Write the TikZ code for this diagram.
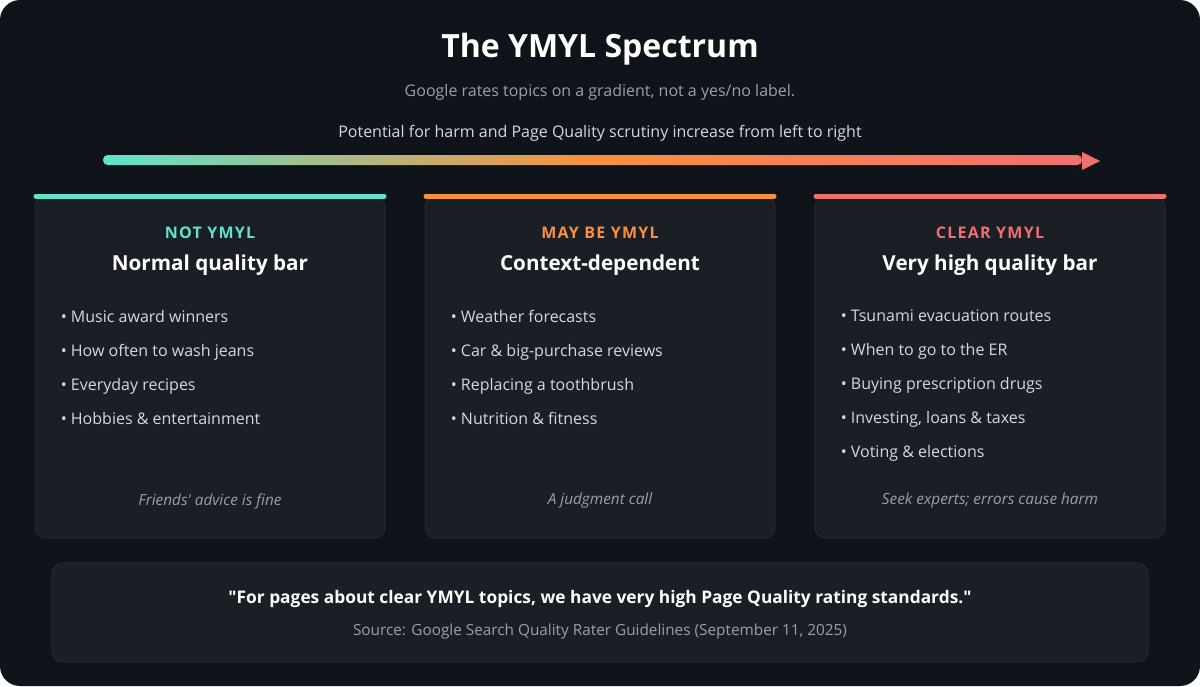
\documentclass[tikz,border=0pt]{standalone}
\usepackage{fontspec}
\setmainfont{Open Sans}
\usetikzlibrary{positioning}
\definecolor{bg}{HTML}{0F141B}
\definecolor{card}{HTML}{1A1E25}
\definecolor{cardline}{HTML}{2B3038}
\definecolor{teal}{HTML}{5FE3CC}
\definecolor{orng}{HTML}{F9903E}
\definecolor{salmon}{HTML}{F07070}
\definecolor{greytxt}{HTML}{9AA0A8}
\definecolor{bullettxt}{HTML}{D5D8DD}
\pgfdeclarehorizontalshading{ymylgrad}{100bp}{color(0bp)=(teal); color(25bp)=(teal); color(50bp)=(orng); color(75bp)=(salmon); color(100bp)=(salmon)}
\tikzset{font=\footnotesize}
\tikzset{every picture/.style={line width=0.5pt}}
\tikzstyle{cardbox}=[fill=card,draw=cardline,rounded corners=8pt]
\tikzstyle{kind}=[font=\fontsize{12}{14}\selectfont\bfseries\addfontfeature{LetterSpace=8}]
\tikzstyle{head}=[font=\fontsize{15.5}{18}\selectfont\bfseries,text=white]
\tikzstyle{item}=[font=\fontsize{12}{14}\selectfont,text=bullettxt,anchor=base west]
\tikzstyle{foot}=[font=\fontsize{11.5}{14}\selectfont\itshape,text=greytxt]
\begin{document}
\begin{tikzpicture}[x=0.75pt,y=-0.75pt]
\fill[white] (0,0) rectangle (1200,686);
\fill[bg,rounded corners=15pt] (0,0) rectangle (1200,686);
\node[font=\fontsize{24}{28}\selectfont\bfseries,text=white] (T) at (600,49) {The YMYL Spectrum};
\node[font=\fontsize{12}{14}\selectfont,text=greytxt] (S) at (600,92) {Google rates topics on a gradient, not a yes/no label.};
\node[font=\fontsize{12}{14}\selectfont,text=bullettxt] (L) at (600,133) {Potential for harm and Page Quality scrutiny increase from left to right};
% spectrum arrow
\shade[shading=ymylgrad,rounded corners=3.5pt] (103,155) rectangle (1082,165);
\coordinate (tipA) at (1082,152);
\coordinate (tipB) at (1100,161);
\coordinate (tipC) at (1082,170);
\fill[salmon] (tipA) -- (tipB) -- (tipC) -- cycle;
% cards
\foreach \x/\c/\k/\h/\f [count=\i] in {35/teal/NOT YMYL/Normal quality bar/Friends\textquotesingle{} advice is fine,
  425/orng/MAY BE YMYL/Context-dependent/A judgment call,
  815/salmon/CLEAR YMYL/Very high quality bar/{Seek experts; errors cause harm}}{
  \draw[cardbox] (\x,196) rectangle (\x+350,538);
  \draw[\c,line width=3.75pt,line cap=round] (\x+1,196) -- (\x+349,196);
  \node[kind,text=\c] (K\i) at (\x+175,233) {\k};
  \node[head] (H\i) at (\x+175,265) {\h};
  \node[foot] (F\i) at (\x+175,501) {\f};
}
\foreach \t [count=\j] in {Music award winners,How often to wash jeans,Everyday recipes,Hobbies \& entertainment}
  \node[item] (A\j) at (56,322+34*\j-34) {• \t};
\foreach \t [count=\j] in {Weather forecasts,Car \& big-purchase reviews,Replacing a toothbrush,Nutrition \& fitness}
  \node[item] (B\j) at (446,322+34*\j-34) {• \t};
\foreach \t [count=\j] in {Tsunami evacuation routes,When to go to the ER,Buying prescription drugs,{Investing, loans \& taxes},Voting \& elections}
  \node[item] (C\j) at (836,321+34*\j-34) {• \t};
% quote
\draw[cardbox] (52,563) rectangle (1148,662);
\node[font=\fontsize{13}{16}\selectfont\bfseries\addfontfeature{Ligatures=TeXOff},text=white] (Q) at (600,599) {"For pages about clear YMYL topics, we have very high Page Quality rating standards."};
\node[font=\fontsize{11.5}{14}\selectfont,text=greytxt] (R) at (600,632) {Source: Google Search Quality Rater Guidelines (September 11, 2025)};
\end{tikzpicture}
\end{document}
